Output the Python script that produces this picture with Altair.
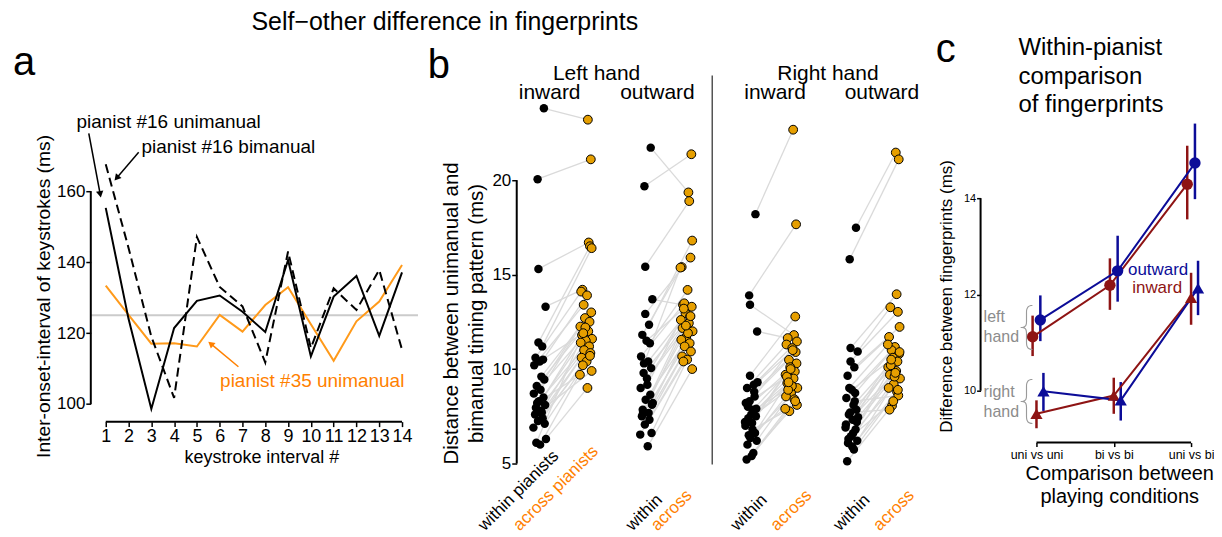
import math
import altair as alt
import pandas as pd

FONT = "Liberation Sans"
ORANGE_LINE = "#FF9A1A"
ORANGE_TEXT = "#FF8000"
GOLD = "#E69F00"
DARK_RED = "#8E1414"
NAVY = "#0C0C98"
GREY_LINE = "#CBCBCB"

# ---------------- panel a data ----------------
intervals = list(range(1, 15))
p16_unimanual = [155.3, 124.0, 98.6, 121.4, 129.1, 130.6, 126.0, 120.3, 140.6, 113.4, 130.3, 136.1, 119.2, 137.1]
p16_bimanual = [167.6, 144.0, 119.0, 101.7, 147.1, 133.0, 127.5, 111.7, 143.0, 115.8, 132.6, 126.5, 137.8, 115.3]
p35_unimanual = [133.4, 125.1, 117.0, 117.1, 116.2, 125.1, 120.4, 127.9, 132.9, 122.5, 112.2, 123.3, 128.9, 139.2]
ioi_reference = 125
a_yticks = [100, 120, 140, 160]
a_labels = ["pianist #16 unimanual", "pianist #16 bimanual", "pianist #35 unimanual"]
a_title = "Self\u2212other difference in fingerprints"

# ---------------- panel b data ----------------
b_groups = ["Left hand inward", "Left hand outward", "Right hand inward", "Right hand outward"]
li_within = [23.8, 20.05, 15.3, 13.3, 11.4, 11.2, 10.6, 10.5, 10.2, 9.6, 9.45, 9.1, 8.9, 8.7, 8.5,
             8.3, 8.1, 7.95, 7.7, 7.6, 7.4, 7.25, 7.1, 6.9, 7.8, 8.2, 6.3, 6.1, 6.0, 10.4]
li_across = [23.2, 21.1, 16.7, 14.2, 16.5, 16.4, 14.1, 13.9, 13.4, 13.0, 12.7, 12.5, 12.25, 12.0, 11.8,
             11.6, 11.5, 11.4, 11.2, 11.0, 10.85, 10.6, 10.4, 10.2, 9.9, 9.7, 9.0, 12.2, 10.7, 11.9]
lo_within = [21.72, 19.68, 15.42, 13.69, 12.92, 12.34, 11.81, 11.37, 10.67, 10.4, 10.05, 9.79, 9.17, 9.0, 8.64,
             8.38, 8.11, 7.85, 7.68, 7.5, 7.32, 7.06, 6.62, 6.53, 5.91, 10.3, 8.2, 7.7, 9.5, 11.5]
lo_across = [19.35, 21.37, 18.89, 13.4, 15.9, 16.8, 15.4, 14.19, 13.48, 13.3, 12.96, 12.78, 12.6, 12.43, 12.17,
             12.0, 11.72, 11.55, 11.37, 11.2, 10.93, 10.67, 10.5, 10.4, 10.0, 15.37, 11.9, 12.3, 12.8, 13.2]
ri_within = [18.2, 13.9, 13.4, 11.99, 9.65, 9.17, 9.0, 8.55, 8.2, 7.85, 7.5, 7.4, 7.15, 7.0, 6.62,
             6.35, 6.2, 6.0, 5.56, 5.21, 8.8, 8.3, 7.9, 7.2, 6.8, 6.5, 9.3, 8.0, 5.4, 7.6]
ri_across = [22.67, 17.66, 11.8, 11.64, 12.78, 11.46, 11.3, 11.11, 10.49, 10.3, 10.1, 9.87, 9.7, 9.5, 9.26,
             9.0, 8.73, 8.55, 8.4, 7.77, 10.9, 9.6, 9.1, 8.9, 8.1, 7.9, 11.0, 10.0, 8.3, 9.3]
ro_within = [17.48, 15.81, 11.11, 10.93, 10.4, 10.1, 9.65, 8.73, 8.47, 8.1, 7.85, 7.6, 7.32, 7.06, 6.8,
             6.44, 6.2, 6.08, 5.74, 5.12, 8.3, 7.7, 7.2, 6.9, 6.6, 9.0, 7.45, 6.3, 5.9, 8.9]
ro_across = [21.46, 21.1, 13.96, 13.27, 13.03, 12.23, 11.7, 11.17, 11.0, 10.8, 10.6, 10.4, 10.1, 9.9, 9.7,
             9.5, 9.2, 9.0, 8.8, 8.06, 8.6, 7.85, 9.6, 10.2, 10.9, 11.3, 9.8, 8.3, 8.9, 10.5]
jitter_within = [0.10, -0.05, -0.03, 0.14, -0.03, 0.06, -0.10, 0.08, -0.13, 0.04, 0.11, -0.07, 0.02, -0.14, 0.09,
                 -0.02, 0.13, -0.09, 0.05, -0.11, 0.07, -0.04, 0.12, -0.15, 0.03, -0.06, 0.15, -0.08, 0.01, 0.0]
jitter_across = [0.05, 0.12, 0.07, -0.08, 0.10, 0.14, -0.11, 0.03, -0.05, 0.13, -0.02, 0.09, -0.13, 0.06, -0.09,
                 0.15, 0.0, -0.12, 0.08, -0.04, 0.11, -0.10, 0.02, -0.07, 0.14, -0.14, 0.04, -0.01, 0.10, -0.06]
b_yticks = [5, 10, 15, 20]
b_hands = ["Left hand", "Right hand"]
b_dirs = ["inward", "outward", "inward", "outward"]
b_xlabels = ["within pianists", "across pianists", "within", "across", "within", "across", "within", "across"]
b_y_title = ["Distance between unimanual and", "bimanual timing pattern (ms)"]

# ---------------- panel c data ----------------
c_conditions = ["uni vs uni", "bi vs bi", "uni vs bi"]
c_left_inward = [11.12, 12.19, 14.29]
c_left_inward_lo = [10.72, 11.68, 13.56]
c_left_inward_hi = [11.56, 12.75, 15.09]
c_left_outward = [11.47, 12.49, 14.73]
c_left_outward_lo = [11.03, 11.85, 13.98]
c_left_outward_hi = [11.98, 13.22, 15.55]
c_right_inward = [9.52, 9.90, 11.93]
c_right_inward_lo = [9.22, 9.52, 11.37]
c_right_inward_hi = [9.80, 10.27, 12.45]
c_right_outward = [9.99, 9.80, 12.13]
c_right_outward_lo = [9.58, 9.38, 11.57]
c_right_outward_hi = [10.37, 10.18, 12.70]
c_yticks = [10, 12, 14]
c_title = ["Within-pianist", "comparison", "of fingerprints"]

# =============== PANEL A ===============
A_W, A_H = 427, 470
A_XD = [0.344, 19.033]
A_YD = [73.08, 205.29]
A_PXX = A_W / (A_XD[1] - A_XD[0])
A_PXY = A_H / (A_YD[1] - A_YD[0])
A_X = alt.Scale(domain=A_XD, nice=False, zero=False)
A_Y = alt.Scale(domain=A_YD, nice=False, zero=False)

axis_a_x = alt.Axis(values=intervals, offset=-78, domain=False, grid=False, tickSize=5, tickWidth=1.5,
                    tickColor="black", labelFontSize=18, labelColor="black", labelPadding=1,
                    labelOverlap=False, labelFlush=False, title="keystroke interval #", titleFontSize=18,
                    titleFontWeight="normal", titleColor="black", titleX=171, titleY=36,
                    titleBaseline="middle")
axis_a_y = alt.Axis(values=a_yticks, domain=False, grid=False, tickSize=5, tickWidth=1.5, tickColor="black",
                    labelFontSize=17, labelColor="black", labelPadding=1,
                    title="Inter-onset-interval of keystrokes (ms)", titleFontSize=19.3,
                    titleFontWeight="normal", titleColor="black", titleX=-47, titleY=266,
                    titleBaseline="middle", titleAngle=270)


def ax(f):
    return alt.X(f"{f}:Q", scale=A_X, axis=axis_a_x)


def ay(f):
    return alt.Y(f"{f}:Q", scale=A_Y, axis=axis_a_y)


df_a = pd.DataFrame({"interval": intervals, "uni16": p16_unimanual, "bi16": p16_bimanual, "uni35": p35_unimanual})

a_ref = alt.Chart(pd.DataFrame({"x": [A_XD[0]], "x2": [14.70], "y": [ioi_reference]})).mark_rule(
    color=GREY_LINE, strokeWidth=2).encode(x=ax("x"), x2="x2:Q", y=ay("y"))
a_l35 = alt.Chart(df_a).mark_line(color=ORANGE_LINE, strokeWidth=2).encode(x=ax("interval"), y=ay("uni35"))
a_lbi = alt.Chart(df_a).mark_line(color="black", strokeWidth=2, strokeDash=[9, 5]).encode(
    x=ax("interval"), y=ay("bi16"))
a_luni = alt.Chart(df_a).mark_line(color="black", strokeWidth=2).encode(x=ax("interval"), y=ay("uni16"))

a_yaxis_line = alt.Chart(pd.DataFrame({"x": [A_XD[0]], "y": [a_yticks[0]], "y2": [a_yticks[-1]]})).mark_rule(
    color="black", strokeWidth=2).encode(x=ax("x"), y=ay("y"), y2="y2:Q")
a_xaxis_line = alt.Chart(pd.DataFrame({"x": [intervals[0]], "x2": [intervals[-1]], "y": [95.02]})).mark_rule(
    color="black", strokeWidth=2).encode(x=ax("x"), x2="x2:Q", y=ay("y"))

df_a_txt = pd.DataFrame({"x": [3.76, 6.38, 10.06], "y": [179.41, 172.38, 106.56], "text": a_labels,
                         "color": ["black", "black", ORANGE_TEXT]})
a_txt = alt.Chart(df_a_txt).mark_text(fontSize=19, align="center", baseline="middle").encode(
    x=ax("x"), y=ay("y"), text="text:N", color=alt.Color("color:N", scale=None))
a_title_txt = alt.Chart(pd.DataFrame({"x": [15.88], "y": [207.82], "text": [a_title]})).mark_text(
    fontSize=25, align="center", baseline="middle", color="black").encode(x=ax("x"), y=ay("y"), text="text:N")
a_letter = alt.Chart(pd.DataFrame({"x": [-2.588], "y": [192.63], "text": ["a"]})).mark_text(
    fontSize=40, align="center", baseline="alphabetic", color="black").encode(x=ax("x"), y=ay("y"), text="text:N")

# arrows
arrow_x0 = [0.256, 2.445, 6.821]
arrow_y0 = [176.32, 170.97, 110.50]
arrow_x1 = [0.782, 1.394, 5.508]
arrow_y1 = [158.31, 163.10, 117.53]
arrow_col = ["black", "black", ORANGE_TEXT]
rows = []
for x0, y0, x1, y1, col in zip(arrow_x0, arrow_y0, arrow_x1, arrow_y1, arrow_col):
    dx = (x1 - x0) * A_PXX
    dy = -(y1 - y0) * A_PXY
    L = math.hypot(dx, dy)
    ang = math.degrees(math.atan2(dx, -dy)) % 360
    back = 4.0
    hx = x1 - (dx / L * back) / A_PXX
    hy = y1 + (dy / L * back) / A_PXY
    rows.append({"x0": x0, "y0": y0, "hx": hx, "hy": hy, "ang": ang, "color": col})
df_arrows = pd.DataFrame(rows)
a_arrow_lines = alt.Chart(df_arrows).mark_rule(strokeWidth=1.5).encode(
    x=ax("x0"), y=ay("y0"), x2="hx:Q", y2="hy:Q", color=alt.Color("color:N", scale=None))
a_arrow_heads = alt.Chart(df_arrows).mark_point(shape="triangle", filled=True, size=55, opacity=1).encode(
    x=ax("hx"), y=ay("hy"), angle=alt.Angle("ang:Q", scale=None), color=alt.Color("color:N", scale=None))

panel_a = alt.layer(a_ref, a_l35, a_lbi, a_luni, a_yaxis_line, a_xaxis_line, a_txt, a_title_txt, a_letter,
                    a_arrow_lines, a_arrow_heads).properties(width=A_W, height=A_H)

# =============== PANEL B ===============
B_W, B_H = 465, 470
B_XD = [-0.548, 10.524]
B_YD = [3.099, 27.915]
B_X = alt.Scale(domain=B_XD, nice=False, zero=False)
B_Y = alt.Scale(domain=B_YD, nice=False, zero=False)
within_pos = [0.0, 2.55, 5.05, 7.45]
across_pos = [1.1, 3.5, 6.0, 8.45]

axis_b_y = alt.Axis(values=b_yticks, domain=False, grid=False, tickSize=5, tickWidth=1.5, tickColor="black",
                    labelFontSize=17, labelColor="black", labelPadding=1, title=b_y_title, titleFontSize=20.5,
                    titleFontWeight="normal", titleColor="black", titleX=-65, titleY=283,
                    titleBaseline="middle", titleAngle=270, titleLineHeight=25)


def bx(f):
    return alt.X(f"{f}:Q", scale=B_X, axis=None)


def by(f):
    return alt.Y(f"{f}:Q", scale=B_Y, axis=axis_b_y)


rows = []
for g, (w_list, a_list) in enumerate([(li_within, li_across), (lo_within, lo_across),
                                      (ri_within, ri_across), (ro_within, ro_across)]):
    for i, (w, a) in enumerate(zip(w_list, a_list)):
        rows.append({"group": b_groups[g], "xw": within_pos[g] + jitter_within[i], "yw": w,
                     "xa": across_pos[g] + jitter_across[i], "ya": a})
df_b = pd.DataFrame(rows)

b_conn = alt.Chart(df_b).mark_rule(color="#DADADA", strokeWidth=1.3).encode(
    x=bx("xw"), y=by("yw"), x2="xa:Q", y2="ya:Q")
b_within = alt.Chart(df_b).mark_circle(color="black", size=72, opacity=1).encode(x=bx("xw"), y=by("yw"))
b_across = alt.Chart(df_b).mark_circle(fill=GOLD, stroke="black", strokeWidth=1, size=78, opacity=1).encode(
    x=bx("xa"), y=by("ya"))

b_yaxis_line = alt.Chart(pd.DataFrame({"x": [B_XD[0]], "y": [b_yticks[0]], "y2": [b_yticks[-1]]})).mark_rule(
    color="black", strokeWidth=2).encode(x=bx("x"), y=by("y"), y2="y2:Q")
b_sep = alt.Chart(pd.DataFrame({"x": [4.119], "y": [4.947], "y2": [25.54]})).mark_rule(
    color="#555555", strokeWidth=1.5).encode(x=bx("x"), y=by("y"), y2="y2:Q")

df_b_head = pd.DataFrame({
    "x": [1.357, 6.88, 0.238, 2.81, 5.62, 8.17],
    "y": [25.64, 25.64, 24.59, 24.59, 24.59, 24.59],
    "text": b_hands + b_dirs})
b_head = alt.Chart(df_b_head).mark_text(fontSize=21, align="center", baseline="middle", color="black").encode(
    x=bx("x"), y=by("y"), text="text:N")

df_b_lab = pd.DataFrame({
    "x": [-1.31, -0.476, 2.214, 2.81, 4.714, 5.667, 7.167, 8.119],
    "y": [1.40] * 8,
    "text": b_xlabels,
    "color": ["black", ORANGE_TEXT] * 4})
b_lab = alt.Chart(df_b_lab).mark_text(fontSize=17, align="left", baseline="alphabetic", angle=315).encode(
    x=bx("x"), y=by("y"), text="text:N", color=alt.Color("color:N", scale=None))
b_letter = alt.Chart(pd.DataFrame({"x": [-2.405], "y": [25.38], "text": ["b"]})).mark_text(
    fontSize=40, align="center", baseline="alphabetic", color="black").encode(x=bx("x"), y=by("y"), text="text:N")

panel_b = alt.layer(b_conn, b_within, b_across, b_yaxis_line, b_sep, b_head, b_lab, b_letter).properties(
    width=B_W, height=B_H)

# =============== PANEL C ===============
C_W, C_H = 228, 470
C_XD = [0.277, 3.219]
C_YD = [7.741, 17.482]
C_X = alt.Scale(domain=C_XD, nice=False, zero=False)
C_Y = alt.Scale(domain=C_YD, nice=False, zero=False)

label_expr = "[" + ",".join(f"'{c}'" for c in c_conditions) + "][datum.value - 1]"
axis_c_x = alt.Axis(values=[1, 2, 3], labelExpr=label_expr, offset=-57, domain=False, grid=False, tickSize=4,
                    tickWidth=1.5, tickColor="black", labelFontSize=12.5, labelColor="black", labelPadding=2,
                    labelOverlap=False, labelFlush=False, title=["Comparison between", "playing conditions"],
                    titleFontSize=20, titleFontWeight="normal", titleColor="black", titleX=139, titleY=31,
                    titleBaseline="middle", titleLineHeight=23)
axis_c_y = alt.Axis(values=c_yticks, domain=False, grid=False, tickSize=4, tickWidth=1.5, tickColor="black",
                    labelFontSize=11, labelColor="black", labelPadding=1,
                    title="Difference between fingerprints (ms)", titleFontSize=17, titleFontWeight="normal",
                    titleColor="black", titleX=-34, titleY=266, titleBaseline="middle", titleAngle=270)


def cx(f):
    return alt.X(f"{f}:Q", scale=C_X, axis=axis_c_x)


def cy(f):
    return alt.Y(f"{f}:Q", scale=C_Y, axis=axis_c_y)


series_spec = [
    ("left", "inward", c_left_inward, c_left_inward_lo, c_left_inward_hi, -0.05),
    ("right", "inward", c_right_inward, c_right_inward_lo, c_right_inward_hi, 0.0),
    ("left", "outward", c_left_outward, c_left_outward_lo, c_left_outward_hi, 0.05),
    ("right", "outward", c_right_outward, c_right_outward_lo, c_right_outward_hi, 0.09),
]
rows = []
for hand, direction, means, los, his, dodge in series_spec:
    for k, cond in enumerate(c_conditions):
        rows.append({"hand": hand, "direction": direction, "series": hand + "-" + direction,
                     "cond": cond, "x": k + 1 + dodge, "mean": means[k], "lo": los[k], "hi": his[k]})
df_c = pd.DataFrame(rows)
color_c = alt.Color("direction:N", scale=alt.Scale(domain=["inward", "outward"], range=[DARK_RED, NAVY]),
                    legend=None)

c_err = alt.Chart(df_c).mark_rule(strokeWidth=2.5).encode(
    x=cx("x"), y=cy("lo"), y2="hi:Q", color=color_c)
c_lines = alt.Chart(df_c).mark_line(strokeWidth=2).encode(
    x=cx("x"), y=cy("mean"), color=color_c, detail="series:N")
c_circ = alt.Chart(df_c[df_c.hand == "left"]).mark_point(shape="circle", filled=True, size=130,
                                                        opacity=1).encode(
    x=cx("x"), y=cy("mean"), color=color_c)
c_tri = alt.Chart(df_c[df_c.hand == "right"]).mark_point(shape="triangle-up", filled=True, size=150,
                                                        opacity=1).encode(
    x=cx("x"), y=cy("mean"), color=color_c)

c_yaxis_line = alt.Chart(pd.DataFrame({"x": [C_XD[0]], "y": [c_yticks[0]], "y2": [c_yticks[-1]]})).mark_rule(
    color="black", strokeWidth=2).encode(x=cx("x"), y=cy("y"), y2="y2:Q")
c_xaxis_line = alt.Chart(pd.DataFrame({"x": [1], "x2": [3], "y": [8.922]})).mark_rule(
    color="black", strokeWidth=2).encode(x=cx("x"), x2="x2:Q", y=cy("y"))

c_title_txt = alt.Chart(pd.DataFrame({"x": [0.767] * 3, "y": [17.13, 16.51, 15.93], "text": c_title})).mark_text(
    fontSize=24, align="left", baseline="middle", color="black").encode(x=cx("x"), y=cy("y"), text="text:N")
c_letter = alt.Chart(pd.DataFrame({"x": [-0.175], "y": [16.82], "text": ["c"]})).mark_text(
    fontSize=40, align="center", baseline="alphabetic", color="black").encode(x=cx("x"), y=cy("y"), text="text:N")
c_dir_txt = alt.Chart(pd.DataFrame({"x": [2.574, 2.561], "y": [12.50, 12.13], "text": ["outward", "inward"],
                                    "color": [NAVY, DARK_RED]})).mark_text(
    fontSize=17, align="center", baseline="middle").encode(
    x=cx("x"), y=cy("y"), text="text:N", color=alt.Color("color:N", scale=None))
c_hand_txt = alt.Chart(pd.DataFrame({"x": [0.316] * 4, "y": [11.53, 11.12, 9.98, 9.56],
                                     "text": ["left", "hand", "right", "hand"]})).mark_text(
    fontSize=16, align="left", baseline="middle", color="#8C8C8C").encode(x=cx("x"), y=cy("y"), text="text:N")
c_brace = alt.Chart(pd.DataFrame({"x": [0.87, 0.87], "y": [11.31, 9.76], "text": ["{", "{"]})).mark_text(
    fontSize=50, font="Inter", fontWeight=100, align="center", baseline="middle", color="#9A9A9A").encode(
    x=cx("x"), y=cy("y"), text="text:N")

panel_c = alt.layer(c_err, c_lines, c_circ, c_tri, c_yaxis_line, c_xaxis_line, c_title_txt, c_letter,
                    c_dir_txt, c_hand_txt, c_brace).properties(width=C_W, height=C_H)

chart = alt.hconcat(panel_a, panel_b, panel_c, spacing=0, bounds="flush").resolve_scale(
    x="independent", y="independent", color="independent").properties(
    padding={"left": 4, "top": 1, "right": 0, "bottom": 0}).configure(font=FONT).configure_view(strokeWidth=0)

chart.save("out.html", embed_options={"renderer": "svg", "actions": False})
